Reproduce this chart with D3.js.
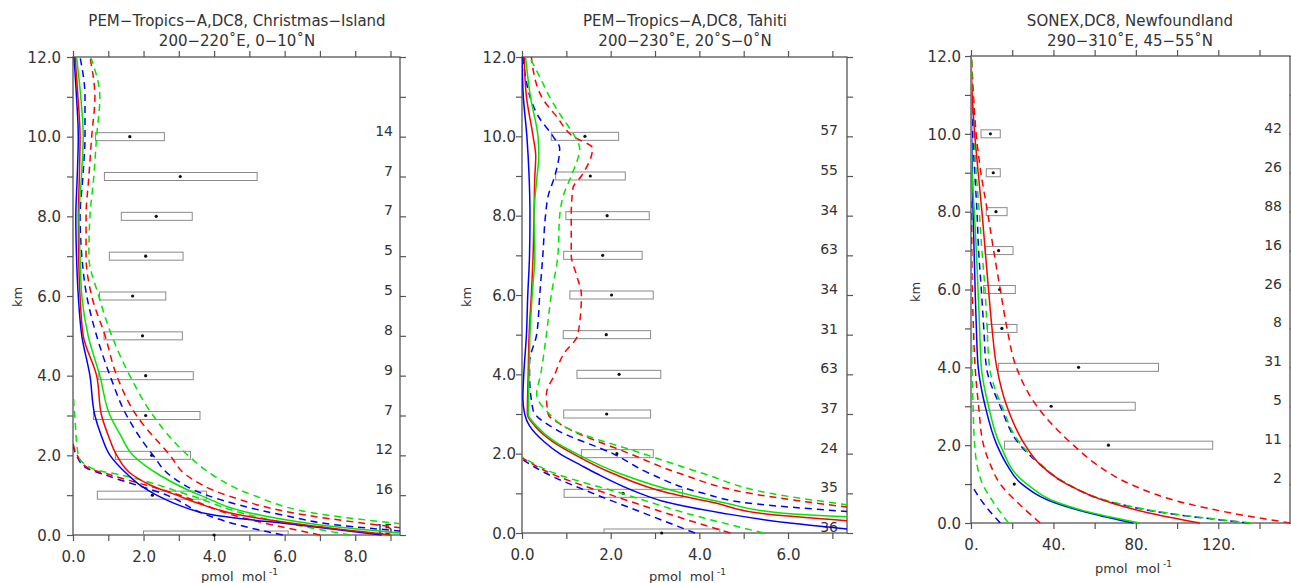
<!DOCTYPE html>
<html><head><meta charset="utf-8">
<script src="https://cdn.jsdelivr.net/npm/d3@7"></script>
<style>
body{margin:0;background:#fff;}
svg text{font-family:"DejaVu Sans",sans-serif;fill:#333;}
</style>
</head><body>
<svg id="chart" width="1291" height="583"></svg>
<script>
// ---------------- DATA (pairs are [altitude km, mixing ratio pmol/mol]) ----------------
// Panel 1: PEM-Tropics-A, Christmas Island
const p1Blue   = [[12,0.03],[11,0.1],[10,0.15],[9,0.12],[8,0.08],[7,0.1],[6,0.15],[5,0.25],[4,0.48],[3,0.62],[2.5,0.8],[2,1.05],[1.5,1.57],[1.25,1.9],[1,2.37],[0.75,3.0],[0.5,3.98],[0.25,6.4],[0,8.75]];
const p1Red    = [[12,0.06],[11,0.14],[10,0.2],[9,0.18],[8,0.15],[7,0.16],[6,0.2],[5,0.29],[4,0.67],[3,0.81],[2.5,1.0],[2,1.24],[1.5,1.7],[1.25,2.2],[1,2.94],[0.75,3.7],[0.5,4.73],[0.25,6.6],[0,9.0]];
const p1Green  = [[12,0.1],[11,0.22],[10,0.29],[9,0.24],[8,0.17],[7,0.2],[6,0.25],[5,0.43],[4,0.76],[3,1.05],[2.5,1.35],[2,1.7],[1.5,2.46],[1,3.6],[0.5,5.3],[0.2,7.5],[0.05,9.3]];
const p1BlueHi = [[12,0.2],[11,0.34],[10,0.34],[9,0.28],[8,0.2],[7,0.25],[6,0.39],[5,0.67],[4,1.05],[3,1.52],[2,2.27],[1.5,2.75],[1,3.79],[0.5,5.95],[0.25,7.5],[0.1,9.3]];
const p1RedHi  = [[12,0.48],[11,0.62],[10,0.53],[9,0.45],[8,0.37],[7,0.37],[6,0.53],[5,0.91],[4,1.24],[3,1.8],[2,2.75],[1.5,3.22],[1,4.35],[0.5,6.6],[0.18,9.3]];
const p1GreenHi= [[12,0.5],[11,0.76],[10,0.67],[9,0.59],[8,0.48],[7,0.45],[6,0.73],[5,1.1],[4,1.61],[3,2.27],[2,3.26],[1.5,3.97],[1,5.1],[0.5,7.2],[0.28,9.3]];
const p1BlueLo = [[2.25,0],[2.0,0.1],[1.7,0.35],[1.5,0.94],[1,2.66],[0.5,3.8],[0.25,4.7],[0,5.95]];
const p1RedLo  = [[2.3,0],[2.0,0.12],[1.7,0.4],[1.5,1.1],[1,3.03],[0.5,4.53],[0,7.0]];
const p1GreenLo= [[3.6,0],[3.0,0.05],[2.0,0.15],[1.65,0.6],[1.5,1.4],[1,3.3],[0.5,5.0],[0,7.85]];
const p1BoxKm  = [10,9,8,7,6,5,4,3,2,1,0];
const p1BoxLo  = [0.64,0.89,1.37,1.03,0.75,0.88,0.73,0.58,1.2,0.69,2.0];
const p1BoxHi  = [2.59,5.22,3.38,3.12,2.63,3.1,3.41,3.6,3.33,3.79,6.1];
const p1BoxMed = [1.61,3.04,2.36,2.06,1.69,1.97,2.06,2.06,2.23,2.25,4.0];
const p1Count  = [14,7,7,5,5,8,9,7,12,16,15];

// Panel 2: PEM-Tropics-A, Tahiti
const p2Blue   = [[12,0.0],[11,0.03],[10,0.11],[9,0.16],[8,0.18],[7,0.17],[6,0.13],[5,0.1],[4,0.04],[3.4,0.02],[3,0.06],[2.7,0.17],[2.3,0.5],[2,0.85],[1.7,1.34],[1.5,1.68],[1,2.66],[0.8,3.18],[0.5,4.53],[0.25,6.04],[0.1,7.35]];
const p2Red    = [[12,0.05],[11,0.1],[10,0.25],[9.5,0.31],[9,0.29],[8,0.27],[7,0.25],[6,0.21],[5,0.16],[4,0.14],[3,0.12],[2.7,0.29],[2.3,0.7],[2,1.15],[1.5,2.05],[1,3.33],[0.75,4.39],[0.5,5.37],[0.31,7.35]];
const p2Green  = [[12,0.08],[11,0.19],[10,0.36],[9.5,0.38],[9,0.34],[8,0.27],[7,0.29],[6,0.23],[5,0.18],[4,0.16],[3,0.14],[2.7,0.33],[2.3,0.75],[2,1.23],[1.5,2.2],[1,3.63],[0.75,4.61],[0.5,5.89],[0.41,7.35]];
const p2BlueHi = [[12,0.02],[11.5,0.08],[11,0.18],[10.5,0.37],[10,0.7],[9.7,0.85],[9,0.74],[8.5,0.59],[8,0.53],[7,0.47],[6,0.4],[5,0.33],[4.3,0.17],[4,0.17],[3.1,0.25],[2.6,0.78],[2,2.05],[1.5,2.88],[1,4.09],[0.75,5.14],[0.54,7.35]];
const p2RedHi  = [[12,0.21],[11,0.44],[10.5,0.78],[10,1.15],[9.7,1.59],[9,1.34],[8.7,1.15],[8,1.11],[7,1.11],[6.5,1.23],[6,1.34],[5,1.26],[4.5,0.93],[4,0.74],[3.5,0.55],[3,0.59],[2.7,0.93],[2,2.43],[1.5,3.56],[1,5.14],[0.65,7.35]];
const p2GreenHi= [[12,0.17],[11.5,0.4],[11,0.62],[10.5,0.89],[10,1.19],[9.7,1.3],[9,1.11],[8.5,0.93],[8,0.85],[7,0.81],[6,0.66],[5,0.55],[4,0.42],[3.5,0.33],[3,0.62],[2.7,0.93],[2,2.73],[1.5,4.09],[1,5.6],[0.71,7.35]];
const p2BlueLo = [[1.86,0],[1.5,0.55],[1,1.6],[0.5,2.75],[0,3.9]];
const p2RedLo  = [[1.9,0],[1.5,0.65],[1,1.9],[0.5,3.25],[0,4.7]];
const p2GreenLo= [[1.92,0],[1.5,0.75],[1,2.25],[0.5,3.7],[0,5.45]];
const p2BoxKm  = [10,9,8,7,6,5,4,3,2,1,0];
const p2BoxLo  = [0.66,0.76,0.99,0.94,1.08,0.93,1.24,0.94,1.34,0.95,1.85];
const p2BoxHi  = [2.18,2.33,2.87,2.71,2.96,2.9,3.13,2.9,2.96,3.62,4.46];
const p2BoxMed = [1.42,1.54,1.92,1.82,2.02,1.9,2.19,1.91,2.14,2.28,3.15];
const p2Count  = [57,55,34,63,34,31,63,37,24,35,36];

// Panel 3: SONEX, Newfoundland
const p3Blue   = [[12,0],[10,0.3],[8,1.0],[6,2.0],[5,2.6],[4,3.5],[3,6.9],[2,12.6],[1.5,17.4],[1,24.7],[0.5,41.7],[0.25,57.8],[0,78.8]];
const p3Red    = [[12,0],[11,0.6],[10,1.8],[9,3.5],[8,5.3],[7,6.9],[6,8.5],[5,10.2],[4,12.5],[3,17.4],[2,26.3],[1.5,33.6],[1,46.5],[0.5,69],[0.25,86.9],[0,111]];
const p3Green  = [[12,0],[10,0.1],[9,0.5],[8,1.6],[7,2.6],[6,3.4],[5,4.2],[4,5.0],[3,8.5],[2,14.2],[1,27.1],[0.5,43.3],[0.25,59.4],[0,82]];
const p3BlueHi = [[12,0],[10,0.8],[9,1.8],[8,2.9],[7,3.7],[6,5.0],[5,6.2],[4,7.5],[3,14.2],[2,23.9],[1.5,33.6],[1,46.5],[0.5,70.8],[0.25,95],[0,135]];
const p3RedHi  = [[12,0.3],[11,1.2],[10,2.5],[9,4.8],[8,8],[7,11],[6,14.2],[5,17.5],[4,22],[3,32],[2,49.7],[1.5,61],[1,77.2],[0.5,104.7],[0.25,127],[0,155]];
const p3GreenHi= [[12,0.3],[10,1.5],[9,2.5],[8,4.0],[7,5.3],[6,6.8],[5,7.8],[4,9.0],[3,15],[2,24.5],[1.5,34],[1,47],[0.5,71.5],[0.25,96],[0,136]];
const p3BlueLo = [[1.0,0],[0.5,6.1],[0,14.2]];
const p3RedLo  = [[8.3,0],[8,0.2],[6,0.6],[5,1.2],[4,2.0],[3,3.7],[2,6.1],[1.5,9.4],[1,14.2],[0.5,23.1],[0,33.6]];
const p3GreenLo= [[7,0],[5,0.2],[4,0.5],[3,1.0],[2,1.8],[1.5,2.9],[1,5.6],[0.5,11.3],[0,18.2]];
const p3BoxKm  = [10,9,8,7,6,5,4,3,2,1];
const p3BoxLo  = [4.85,7.4,7.4,6.9,6.1,8.0,13.4,0,16.3,21];
const p3BoxHi  = [14.2,14.2,17.5,20.4,21.5,22.3,91,79.7,117.3,21];
const p3BoxMed = [9.4,10.8,12.1,13.4,13.9,15.0,52.2,38.9,66.7,21];
const p3Count  = [42,26,88,16,26,8,31,5,11,2];

const titles1 = ["PEM\u2212Tropics\u2212A,DC8, Christmas\u2212Island", "PEM\u2212Tropics\u2212A,DC8, Tahiti", "SONEX,DC8, Newfoundland"];
const titles2 = ["200\u2212220\u02DAE, 0\u221210\u02DAN", "200\u2212230\u02DAE, 20\u02DAS\u22120\u02DAN", "290\u2212310\u02DAE, 45\u221255\u02DAN"];
const kmTicks = [0,1,2,3,4,5,6,7,8,9,10,11,12];

// ---------------- LAYOUT ----------------
const panels = [
  {left:73, right:400, top:57, bottom:535, xmax:9.27, minor:1, major:2, fmt:d=>d.toFixed(1), yGap:12, kmX:18, kmY:297, countX:393, titleX:237, xlY:581,
   lines:[p1Blue,p1Red,p1Green,p1BlueHi,p1RedHi,p1GreenHi,p1BlueLo,p1RedLo,p1GreenLo],
   box:[p1BoxKm,p1BoxLo,p1BoxHi,p1BoxMed,p1Count]},
  {left:522, right:847, top:57, bottom:533, xmax:7.33, minor:1, major:2, fmt:d=>d.toFixed(1), yGap:6, kmX:467, kmY:297, countX:838, titleX:685, xlY:581,
   lines:[p2Blue,p2Red,p2Green,p2BlueHi,p2RedHi,p2GreenHi,p2BlueLo,p2RedLo,p2GreenLo],
   box:[p2BoxKm,p2BoxLo,p2BoxHi,p2BoxMed,p2Count]},
  {left:971, right:1290, top:56, bottom:523, xmax:154.8, minor:20, major:40, fmt:d=>d.toFixed(0)+".", yGap:10, kmX:916, kmY:292, countX:1282, titleX:1130, xlY:573,
   lines:[p3Blue,p3Red,p3Green,p3BlueHi,p3RedHi,p3GreenHi,p3BlueLo,p3RedLo,p3GreenLo],
   box:[p3BoxKm,p3BoxLo,p3BoxHi,p3BoxMed,p3Count]}
];
const colors = ["#0000ff","#ff0000","#00e600"];
const axisColor = "#555";

const svg = d3.select("#chart");

panels.forEach((p, i) => {
  const x = d3.scaleLinear().domain([0, p.xmax]).range([p.left, p.right]);
  const y = d3.scaleLinear().domain([0, 12]).range([p.bottom, p.top]);
  const g = svg.append("g");

  const clipId = "clip" + i;
  svg.append("clipPath").attr("id", clipId).append("rect")
    .attr("x", p.left).attr("y", p.top - 1).attr("width", p.right - p.left).attr("height", p.bottom - p.top + 2);

  // titles
  g.append("text").attr("x", p.titleX).attr("y", 21).attr("text-anchor","middle").attr("dominant-baseline","middle")
    .style("font-size","15px").text(titles1[i]);
  g.append("text").attr("x", p.titleX).attr("y", 41).attr("text-anchor","middle").attr("dominant-baseline","middle")
    .style("font-size","15px").text(titles2[i]);

  // axes
  const xTicks = d3.range(0, p.xmax + 1e-9, p.minor);
  const style = sel => { sel.select(".domain").remove(); sel.selectAll("line").attr("stroke", axisColor).attr("stroke-width",1.2); };

  const bottom = g.append("g").attr("transform", `translate(0,${p.bottom})`)
    .call(d3.axisBottom(x).tickValues(xTicks).tickSize(6)
      .tickFormat(d => (Math.abs(d / p.major - Math.round(d / p.major)) < 1e-6) ? p.fmt(d) : ""));
  style(bottom);
  bottom.selectAll("text").attr("y", 22).attr("dy","0.35em").style("font-size","15px");

  const topA = g.append("g").attr("transform", `translate(0,${p.top})`)
    .call(d3.axisTop(x).tickValues(xTicks).tickSize(6).tickFormat(""));
  style(topA);

  const leftA = g.append("g").attr("transform", `translate(${p.left},0)`)
    .call(d3.axisLeft(y).tickValues(kmTicks).tickSize(6).tickFormat(d => d % 2 === 0 ? d.toFixed(1) : ""));
  style(leftA);
  leftA.selectAll("text").attr("x", -p.yGap).attr("dy","0.35em").style("font-size","15px");

  const rightA = g.append("g").attr("transform", `translate(${p.right},0)`)
    .call(d3.axisRight(y).tickValues(kmTicks).tickSize(6).tickFormat(""));
  style(rightA);

  // frame
  g.append("rect").attr("x", p.left).attr("y", p.top).attr("width", p.right - p.left).attr("height", p.bottom - p.top)
    .attr("fill","none").attr("stroke", axisColor).attr("stroke-width",1.3);

  // axis titles
  g.append("text").attr("transform", `translate(${p.kmX},${p.kmY}) rotate(-90)`).attr("text-anchor","middle")
    .attr("dominant-baseline","middle").style("font-size","13px").text("km");
  const xl = g.append("text").attr("x", (p.left + p.right) / 2 + 3).attr("y", p.xlY)
    .attr("text-anchor","middle").style("font-size","13px");
  xl.append("tspan").text("pmol\u00A0\u00A0mol");
  xl.append("tspan").attr("dy", -6).style("font-size","9px").text("\u00A0-1");

  // boxes
  const [bk, blo, bhi, bmed, bn] = p.box;
  const bg = g.append("g");
  bk.forEach((k, j) => {
    bg.append("rect").attr("x", x(blo[j])).attr("y", y(k) - 4).attr("width", Math.max(0, x(bhi[j]) - x(blo[j]))).attr("height", 8)
      .attr("fill","none").attr("stroke","#8a8a8a").attr("stroke-width",1)
      .attr("clip-path", `url(#${clipId})`);
    bg.append("circle").attr("cx", x(bmed[j])).attr("cy", y(k)).attr("r", 1.6).attr("fill","#111");
    g.append("text").attr("x", p.countX).attr("y", y(k) - 5).attr("text-anchor","end").attr("dominant-baseline","middle")
      .style("font-size","14px").text(bn[j]);
  });

  // profile lines
  const line = d3.line().x(d => x(d[1])).y(d => y(d[0])).curve(d3.curveMonotoneY);
  const lg = g.append("g").attr("clip-path", `url(#${clipId})`);
  const order = [6,7,8,3,4,5,0,1,2];
  order.forEach(idx => {
    const data = p.lines[idx].slice().sort((a, b) => a[0] - b[0]);
    const dashed = idx >= 3;
    lg.append("path").datum(data).attr("d", line).attr("fill","none")
      .attr("stroke", colors[idx % 3]).attr("stroke-width", 1.5)
      .attr("stroke-dasharray", dashed ? "7,5" : null);
  });
});
</script>
</body></html>
